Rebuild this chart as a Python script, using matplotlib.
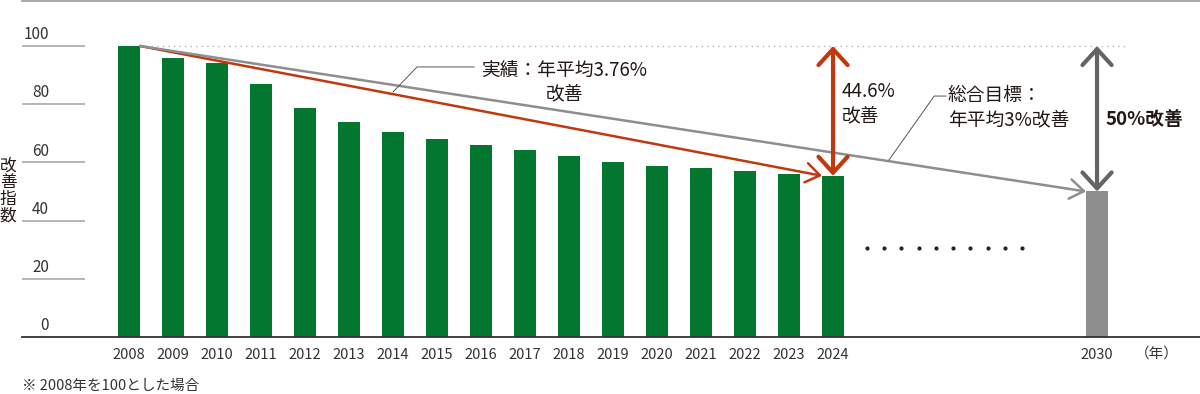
import matplotlib
matplotlib.use("Agg")
import matplotlib.pyplot as plt
import numpy as np
from matplotlib.patches import FancyArrowPatch

plt.rcParams['font.family'] = ['Noto Sans CJK JP', 'DejaVu Sans']

years = [2008, 2009, 2010, 2011, 2012, 2013, 2014, 2015, 2016, 2017,
         2018, 2019, 2020, 2021, 2022, 2023, 2024]
values = [100, 95.8, 94.2, 86.8, 78.6, 73.8, 70.4, 68.0, 66.0, 64.2,
          62.3, 60.0, 58.6, 58.1, 56.9, 55.9, 55.4]
target_year = 2030
target_value = 50
yticks = [0, 20, 40, 60, 80, 100]
ylabel = "改\n善\n指\n数"
actual_label = "実績：年平均3.76%\n改善"
actual_improve = "44.6%\n改善"
target_label = "総合目標：\n年平均3%改善"
target_improve = "50%改善"
footnote = "※ 2008年を100とした場合"
year_unit = "（年）"

GREEN = "#03772F"
RED = "#C0390E"
GRAY_LINE = "#8E8E8E"
GRAY_BAR = "#8E8E8E"
DARK = "#646464"
TEXT = "#231815"

W, H = 1200, 394
fig = plt.figure(figsize=(W / 100, H / 100), dpi=100)
ax = fig.add_axes([22 / W, 57 / H, 1178 / W, 336 / H])
x0, x1 = 2005.568, 2032.34
ax.set_xlim(x0, x1)
ax.set_ylim(0, 336 / 2.91)

bw = 0.5
ax.bar(years, values, width=bw, color=GREEN, zorder=2)
ax.bar([target_year], [target_value], width=bw, color=GRAY_BAR, zorder=2)

# spines
for s in ['left', 'right']:
    ax.spines[s].set_visible(False)
ax.spines['top'].set_color("#9a9a9a")
ax.spines['top'].set_linewidth(1.2)
ax.spines['bottom'].set_color("#333333")
ax.spines['bottom'].set_linewidth(1.3)

# y grid stubs and labels
ax.set_yticks([])
for t in yticks:
    if t > 0:
        ax.hlines(t, x0, 2007.0, color="#b0b0b0", lw=1.3, zorder=1)
    ax.text(2006.18, t + 3.9, str(t), ha='right', va='center',
            fontsize=11, color="#333333")

# x ticks
ax.set_xticks(years + [target_year])
ax.set_xticklabels([str(y) for y in years + [target_year]],
                   fontsize=10.5, color="#333333")
ax.tick_params(axis='x', length=0, pad=8)
ax.text(2031.35, -5.6, year_unit, ha='center', va='center', fontsize=10.5,
        color="#333333", clip_on=False)

# y label
fig.text(8 / W, 1 - 191 / H, ylabel, ha='center', va='center', fontsize=12,
         linespacing=0.98, color=TEXT)

# footnote
fig.text(22 / W, 1 - 386 / H, footnote, ha='left', va='center', fontsize=10.5,
         color="#333333")

# dotted reference line at 100
ax.plot([years[0] + bw / 2, 2030.64], [100, 100], ls=(0, (1, 3)),
        color="#b5b5b5", lw=1.0, zorder=1)

# trend arrows
arr1 = FancyArrowPatch((years[0] + bw / 2, values[0]),
                       (years[-1] - bw / 2, values[-1]),
                       arrowstyle='->,head_length=1.0,head_width=0.7',
                       mutation_scale=10, color=RED, lw=1.8,
                       shrinkA=0, shrinkB=0, zorder=3)
ax.add_patch(arr1)
arr2 = FancyArrowPatch((years[0] + bw / 2, values[0]),
                       (target_year - bw / 2, target_value),
                       arrowstyle='->,head_length=1.0,head_width=0.7',
                       mutation_scale=10, color=GRAY_LINE, lw=1.8,
                       shrinkA=0, shrinkB=0, zorder=3)
ax.add_patch(arr2)

# double arrows
d1 = FancyArrowPatch((years[-1], values[0]), (years[-1], values[-1]),
                     arrowstyle='<->,head_length=1.15,head_width=1.05',
                     mutation_scale=10, color=RED, lw=3.0,
                     shrinkA=0, shrinkB=0, zorder=4)
ax.add_patch(d1)
d2 = FancyArrowPatch((target_year, values[0]), (target_year, target_value),
                     arrowstyle='<->,head_length=1.15,head_width=1.05',
                     mutation_scale=10, color=DARK, lw=3.0,
                     shrinkA=0, shrinkB=0, zorder=4)
ax.add_patch(d2)

# ellipsis dots
ax.plot(np.linspace(2024.77, 2028.3, 10), [30.6] * 10, ls='none',
        marker='o', ms=2.0, color="#222222")

# leader lines
ax.plot([2014.0, 2014.545, 2015.84], [84.2, 92.8, 92.8], color="#555555",
        lw=0.7, zorder=3)
ax.plot([2025.27, 2026.3, 2026.57], [60.8, 82.8, 82.8], color="#555555",
        lw=0.7, zorder=3)

# texts
ax.text(2017.886, 87.6, actual_label, ha='center', va='center',
        multialignment='center', fontsize=13.5, linespacing=1.2, color=TEXT)
ax.text(2024.2, 80.2, actual_improve, ha='left', va='center',
        fontsize=13.5, linespacing=1.2, color=TEXT)
ax.text(2026.61, 78.9, target_label, ha='left', va='center',
        fontsize=13.5, linespacing=1.2, color=TEXT)
ax.text(2030.2, 74.9, target_improve, ha='left', va='center',
        fontsize=13.5, fontweight='bold', color=TEXT)

fig.savefig("out.png", dpi=100)
